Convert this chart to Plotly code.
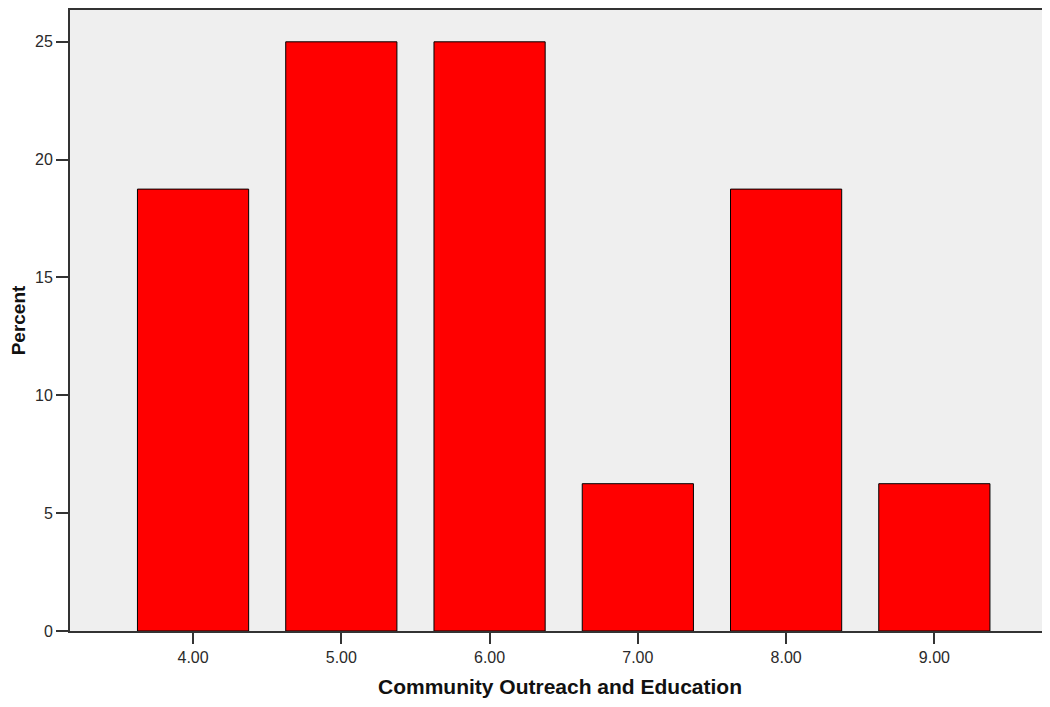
import plotly.graph_objects as go

categories = [4.0, 5.0, 6.0, 7.0, 8.0, 9.0]
tick_labels = ["4.00", "5.00", "6.00", "7.00", "8.00", "9.00"]
percent = [18.75, 25.0, 25.0, 6.25, 18.75, 6.25]
y_ticks = [0, 5, 10, 15, 20, 25]

fig = go.Figure(go.Bar(
    x=categories, y=percent, width=0.75,
    marker=dict(color="#ff0000", line=dict(color="#000000", width=1)),
))

fig.update_layout(
    width=1042, height=691,
    margin=dict(l=62, r=0, t=0, b=68),
    plot_bgcolor="#efefef", paper_bgcolor="#ffffff",
    font=dict(family="Liberation Sans, Arial", color="#2a2a2a", size=16),
    showlegend=False,
)
fig.update_xaxes(
    range=[3.17, 9.78], tickvals=categories, ticktext=tick_labels,
    showgrid=False, zeroline=False,
    showline=True, linecolor="#333333", linewidth=2, mirror=True,
    ticks="outside", ticklen=11, tickcolor="#333333", tickwidth=2,
    title=dict(text="<b>Community Outreach and Education</b>",
               font=dict(family="Liberation Sans, Arial", size=21, color="#111111"), standoff=14),
)
fig.update_yaxes(
    range=[0, 26.35], tickvals=y_ticks,
    showgrid=False, zeroline=False,
    showline=True, linecolor="#333333", linewidth=2,
    ticks="outside", ticklen=12, tickcolor="#333333", tickwidth=2,
    title=dict(text="<b>Percent</b>",
               font=dict(family="Liberation Sans, Arial", size=19, color="#111111"), standoff=12),
)

fig.write_html("out.html")
